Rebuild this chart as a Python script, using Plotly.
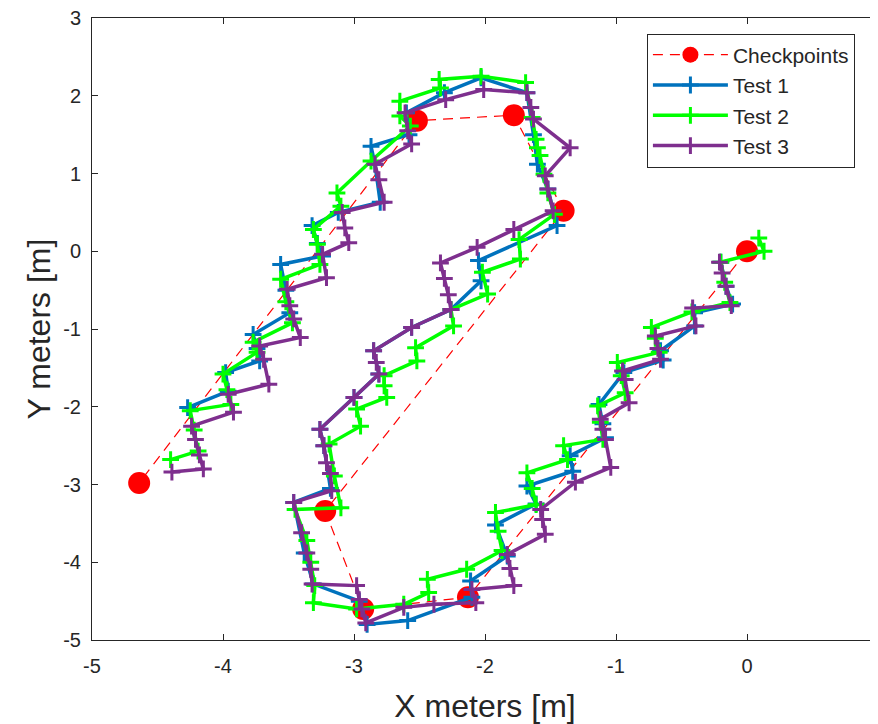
import plotly.graph_objects as go

# Checkpoints
cp_x = [0.0, -2.13, -2.93, -3.22, -1.40, -1.78, -2.52, -4.64]
cp_y = [0.0, -4.45, -4.60, -3.34, 0.52, 1.75, 1.68, -2.98]

# Test 1 (blue)
t1_x = [-0.20, -0.16, -0.11, -0.40, -0.40, -0.66, -0.64, -0.94, -1.13, -1.10, -1.08, -1.35, -1.33,
        -1.68, -1.61, -1.92, -1.83, -2.11, -2.10, -2.59, -2.90, -2.96, -3.31, -3.38, -3.46, -3.18,
        -3.23, -3.26, -3.00, -2.81, -2.85, -2.56, -2.26, -2.03, -2.05, -1.45, -1.52, -1.60, -1.63,
        -1.68, -2.03, -2.31, -2.60, -2.58, -2.87, -2.84, -2.80, -3.12, -3.32, -3.28, -3.24, -3.56,
        -3.52, -3.49, -3.77, -3.74, -3.72, -3.98, -3.96, -4.27]
t1_y = [-0.14, -0.45, -0.68, -0.79, -0.96, -1.28, -1.40, -1.56, -1.97, -2.22, -2.40, -2.63, -2.83,
        -3.02, -3.25, -3.52, -3.92, -4.24, -4.45, -4.75, -4.80, -4.50, -4.28, -3.88, -3.23, -3.05,
        -2.50, -2.29, -1.88, -1.58, -1.28, -0.98, -0.75, -0.38, -0.12, 0.33, 0.80, 1.12, 1.50,
        2.04, 2.23, 2.04, 1.78, 1.50, 1.35, 1.12, 0.63, 0.50, 0.33, 0.10, -0.06, -0.17,
        -0.50, -0.79, -1.07, -1.25, -1.41, -1.56, -1.80, -2.01]

# Test 2 (green)
t2_x = [0.09, 0.13, -0.20, -0.17, -0.13, -0.42, -0.73, -0.70, -0.67, -0.99, -0.96, -0.93, -1.14,
        -1.12, -1.10, -1.40, -1.37, -1.68, -1.64, -1.61, -1.92, -1.90, -1.87, -2.14, -2.44, -2.43,
        -2.62, -2.98, -3.31, -3.30, -3.33, -3.36, -3.45, -3.10, -3.15, -3.19, -2.95, -2.98, -2.75,
        -2.77, -2.77, -2.52, -2.53, -2.24, -2.26, -1.98, -2.02, -1.73, -1.74, -1.47, -1.52, -1.55,
        -1.58, -1.60, -1.61, -1.64, -1.69, -2.03, -2.35, -2.34, -2.65, -2.65, -2.57, -2.87, -3.13,
        -3.10, -3.31, -3.28, -3.26, -3.56, -3.52, -3.47, -3.77, -3.74, -4.00, -3.97, -3.94, -4.25,
        -4.22, -4.19, -4.40]
t2_y = [0.17, 0.00, -0.14, -0.40, -0.66, -0.78, -0.98, -1.12, -1.30, -1.43, -1.60, -1.82, -1.99,
        -2.20, -2.42, -2.50, -2.68, -2.85, -3.05, -3.26, -3.36, -3.60, -3.85, -4.09, -4.22, -4.39,
        -4.54, -4.60, -4.52, -4.30, -4.00, -3.72, -3.32, -3.30, -2.89, -2.48, -2.25, -2.03, -1.88,
        -1.73, -1.60, -1.41, -1.24, -0.96, -0.75, -0.55, -0.27, -0.10, 0.15, 0.475, 0.75, 0.99,
        1.23, 1.33, 1.44, 1.72, 2.17, 2.25, 2.21, 2.10, 1.93, 1.74, 1.61, 1.16, 0.75,
        0.58, 0.28, 0.09, -0.17, -0.36, -0.65, -0.92, -1.17, -1.30, -1.58, -1.78, -1.97, -2.05,
        -2.30, -2.57, -2.68]

# Test 3 (purple)
t3_x = [-0.21, -0.19, -0.16, -0.12, -0.415, -0.39, -0.70, -0.68, -0.66, -0.95, -0.93, -0.90, -1.12,
        -1.10, -1.08, -1.04, -1.31, -1.575, -1.56, -1.54, -1.83, -1.81, -1.78, -2.10, -2.07, -2.39,
        -2.62, -2.91, -2.94, -2.96, -2.98, -3.32, -3.33, -3.36, -3.40, -3.46, -3.17, -3.18, -3.21,
        -3.23, -3.26, -3.00, -2.81, -2.83, -2.85, -2.56, -2.26, -2.28, -2.31, -2.34, -2.06, -1.78,
        -1.48, -1.52, -1.54, -1.35, -1.63, -1.65, -1.68, -2.01, -2.30, -2.61, -2.59, -2.56, -2.84,
        -2.81, -2.77, -3.09, -3.07, -3.04, -3.24, -3.21, -3.51, -3.49, -3.46, -3.41, -3.72, -3.69,
        -3.65, -3.96, -3.92, -4.24, -4.21, -4.18, -4.15, -4.39]
t3_y = [-0.14, -0.28, -0.45, -0.70, -0.73, -0.96, -1.09, -1.25, -1.39, -1.54, -1.65, -1.95, -2.16,
        -2.29, -2.42, -2.78, -2.97, -3.32, -3.45, -3.64, -3.90, -4.08, -4.30, -4.35, -4.52, -4.54,
        -4.58, -4.78, -4.60, -4.48, -4.30, -4.28, -4.09, -3.88, -3.62, -3.23, -3.08, -2.86, -2.72,
        -2.50, -2.29, -1.88, -1.58, -1.43, -1.28, -0.98, -0.75, -0.56, -0.35, -0.15, 0.05, 0.28,
        0.52, 0.80, 0.97, 1.33, 1.70, 1.85, 2.04, 2.08, 1.95, 1.78, 1.55, 1.38, 1.12,
        0.92, 0.63, 0.50, 0.30, 0.11, -0.04, -0.34, -0.49, -0.70, -0.87, -1.11, -1.22, -1.39,
        -1.71, -1.84, -2.07, -2.25, -2.42, -2.62, -2.80, -2.84]

x_ticks = [-5, -4, -3, -2, -1, 0, 1]
y_ticks = [-5, -4, -3, -2, -1, 0, 1, 2, 3]

FONT = "Liberation Sans, Arial, sans-serif"
AX = "#262626"

fig = go.Figure()
fig.add_trace(go.Scatter(
    x=cp_x, y=cp_y, name="Checkpoints", mode="lines+markers",
    line=dict(color="#FF0000", width=1.2, dash="10px,7px"),
    marker=dict(color="#FF0000", size=22, symbol="circle"),
))

def test_trace(xs, ys, name, color):
    return go.Scatter(
        x=xs, y=ys, name=name, mode="lines+markers",
        line=dict(color=color, width=3.5),
        marker=dict(symbol="cross-thin", size=12, color=color,
                    line=dict(color=color, width=3)),
    )

fig.add_trace(test_trace(t1_x, t1_y, "Test 1", "#0072BD"))
fig.add_trace(test_trace(t2_x, t2_y, "Test 2", "#00FF00"))
fig.add_trace(test_trace(t3_x, t3_y, "Test 3", "#7E2F8E"))

axis_common = dict(
    showgrid=False, zeroline=False, showline=True, linecolor=AX, linewidth=1,
    mirror="ticks", ticks="inside", ticklen=6, tickcolor=AX, automargin=False,
    ticklabeloverflow="allow",
    tickfont=dict(family=FONT, size=20, color=AX),
)

fig.update_layout(
    width=878, height=724,
    margin=dict(l=84, r=8, t=10, b=92),
    paper_bgcolor="white", plot_bgcolor="white",
    font=dict(family=FONT, color=AX),
    showlegend=True,
    legend=dict(
        x=0.706, y=0.975, xanchor="left", yanchor="top",
        bgcolor="white", bordercolor=AX, borderwidth=1,
        font=dict(family=FONT, size=21, color=AX),
        itemwidth=75, tracegroupgap=0,
    ),
    xaxis=dict(range=[-5, 1], tickvals=x_ticks, ticktext=[str(v) for v in x_ticks],
               ticklabelstandoff=8,
               title=dict(text="X meters [m]", font=dict(family=FONT, size=32, color=AX), standoff=18),
               **axis_common),
    yaxis=dict(range=[-5, 3], tickvals=y_ticks, ticktext=[str(v) for v in y_ticks],
               ticklabelstandoff=6,
               title=dict(text="Y meters [m]", font=dict(family=FONT, size=32, color=AX), standoff=3),
               **axis_common),
)

fig.write_html("out.html")
